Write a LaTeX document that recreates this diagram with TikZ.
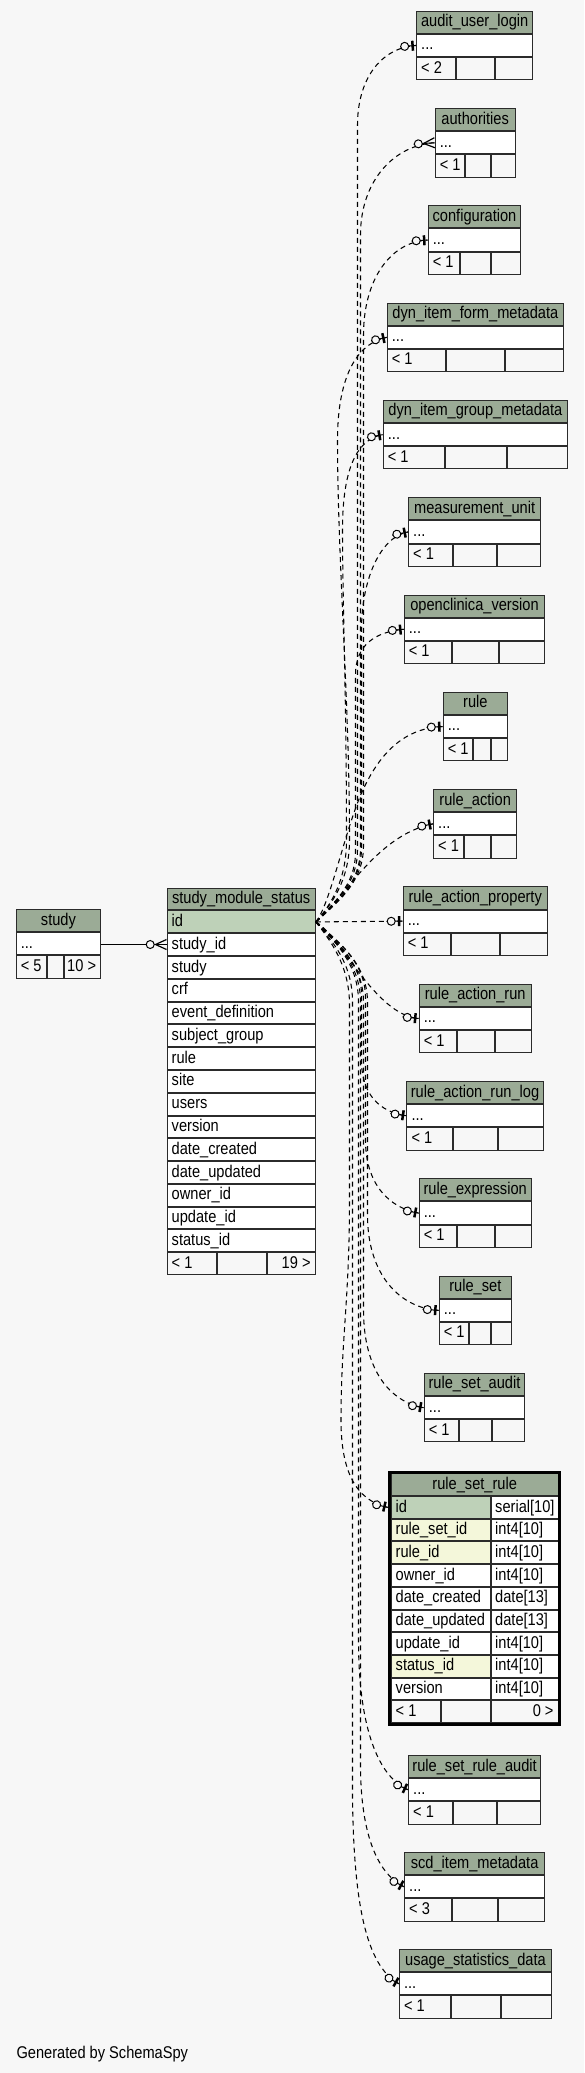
\documentclass[tikz,border=0pt]{standalone}
\usepackage{fontspec}
\setmainfont{Liberation Sans}[FakeStretch=0.86]
\usetikzlibrary{decorations.markings}
\definecolor{bg}{HTML}{F7F7F7}
\definecolor{hdr}{HTML}{9BAB96}
\definecolor{pk}{HTML}{BED1B8}
\definecolor{fk}{HTML}{F4F7DA}
\definecolor{bd}{HTML}{2B2B2B}
\definecolor{ln}{HTML}{000000}
\def\rh{23.17}
\newcommand{\cellbox}[5]{%
  \filldraw[fill=#5, draw=bd, line width=1pt] ({#1+0.5},{#2+0.5}) rectangle ({#3-0.5},{#4-0.5});}
\newcommand{\smalltbl}[8]{%
  \pgfmathsetmacro\ya{#4+\rh}%
  \pgfmathsetmacro\yb{#4+2*\rh}%
  \pgfmathsetmacro\yc{#4+3*\rh}%
  \cellbox{#2}{#4}{#3}{\ya}{hdr}
  \cellbox{#2}{\ya}{#3}{\yb}{white}
  \cellbox{#2}{\yb}{#7}{\yc}{bg}
  \cellbox{#7}{\yb}{#8}{\yc}{bg}
  \cellbox{#8}{\yb}{#3}{\yc}{bg}
  \node[txt, anchor=base] (#1-h) at ({(#2+#3)/2},{#4+16}) {#5};
  \node[txt, anchor=base west] (#1-r) at ({#2+5},{\ya+16}) {...};
  \node[txt, anchor=base west] (#1-f) at ({#2+5},{\yb+16}) {#6};
  \coordinate (#1-in) at (#2,{\ya+\rh/2});
}
\tikzset{
  txt/.style={inner sep=0pt, font=\fontsize{17}{20}\selectfont},
  conn/.style={draw=ln, line width=1.05pt, dash pattern=on 5pt off 4pt},
  zeroone/.style={postaction={decorate, decoration={markings, mark=at position -0.6pt with {
     \draw[ln, solid, line width=1pt] (-15.4pt,0pt) -- (0.6pt,0pt);
     \filldraw[draw=ln, fill=bg, solid, line width=1pt] (-10.8pt,0pt) circle[radius=4pt];
     \draw[ln, solid, line width=2.5pt] (-2.8pt,-5pt) -- (-2.8pt,5pt);}}}},
  zeromany/.style={postaction={decorate, decoration={markings, mark=at position -0.6pt with {
     \draw[ln, solid, line width=1pt] (-20.4pt,0pt) -- (0.6pt,0pt);
     \filldraw[draw=ln, fill=bg, solid, line width=1pt] (-15.7pt,0pt) circle[radius=4pt];
     \draw[ln, solid, line width=1.2pt] (-10.4pt,0pt) -- (0.6pt,5pt) (-10.4pt,0pt) -- (0.6pt,-5pt);}}}}
}
\begin{document}
\begin{tikzpicture}[x=1pt,y=-1pt]
\fill[bg] (0,0) rectangle (584,2073);
\useasboundingbox (0,0) rectangle (584,2073);

% small tables
\smalltbl{audit}{416}{533.3}{10.7}{audit\_user\_login}{< 2}{455.9}{494.6}
\smalltbl{auth}{434.6}{515.8}{108}{authorities}{< 1}{464.8}{490.9}
\smalltbl{conf}{427.6}{521.4}{205.3}{configuration}{< 1}{460.3}{490.9}
\smalltbl{dform}{386.7}{564}{302.6}{dyn\_item\_form\_metadata}{< 1}{446.3}{505.3}
\smalltbl{dgroup}{382.7}{568}{399.9}{dyn\_item\_group\_metadata}{< 1}{445}{506.7}
\smalltbl{meas}{408}{541.3}{497.2}{measurement\_unit}{< 1}{453}{497}
\smalltbl{ocv}{403.7}{545.3}{594.5}{openclinica\_version}{< 1}{452}{498.7}
\smalltbl{rule}{442.7}{508}{691.8}{rule}{< 1}{473}{490.7}
\smalltbl{ract}{433}{517.3}{789.1}{rule\_action}{< 1}{463.7}{491}
\smalltbl{rap}{402.6}{547.9}{886.4}{rule\_action\_property}{< 1}{451.4}{499.8}
\smalltbl{rar}{418.6}{531.8}{983.7}{rule\_action\_run}{< 1}{457}{494.6}
\smalltbl{rarl}{406.3}{543.8}{1081}{rule\_action\_run\_log}{< 1}{452.9}{498.3}
\smalltbl{rexp}{418.6}{531.8}{1178.3}{rule\_expression}{< 1}{457}{494.6}
\smalltbl{rset}{438.7}{512}{1275.6}{rule\_set}{< 1}{469}{490.7}
\smalltbl{rsa}{423.7}{525.3}{1372.9}{rule\_set\_audit}{< 1}{458.7}{492}
\smalltbl{rsra}{408}{541.3}{1755}{rule\_set\_rule\_audit}{< 1}{452.9}{497.2}
\smalltbl{scd}{404}{545.3}{1852}{scd\_item\_metadata}{< 3}{451.8}{498.3}
\smalltbl{usd}{398.9}{552}{1949}{usage\_statistics\_data}{< 1}{450.7}{501.3}

% study
\cellbox{15.6}{909}{101.3}{932.2}{hdr}
\cellbox{15.6}{932.2}{101.3}{955.3}{white}
\cellbox{15.6}{955.3}{46.6}{978.5}{bg}
\cellbox{46.6}{955.3}{64}{978.5}{bg}
\cellbox{64}{955.3}{101.3}{978.5}{bg}
\node[txt, anchor=base] (study-h) at (58.45,925) {study};
\node[txt, anchor=base west] (study-r) at (20.6,948.2) {...};
\node[txt, anchor=base west] (study-f1) at (20.6,971.3) {< 5};
\node[txt, anchor=base east] (study-f3) at (96.3,971.3) {10 >};
\coordinate (study-out) at (101.3,944.5);

% study_module_status
\cellbox{166.5}{887.7}{315.8}{910.48}{hdr}
\node[txt, anchor=base] (sms-h) at (241.15,903.7) {study\_module\_status};
\foreach \t [count=\i] in {id,study\_id,study,crf,event\_definition,subject\_group,rule,site,users,version,date\_created,date\_updated,owner\_id,update\_id,status\_id}{
  \pgfmathsetmacro\yt{887.7+\i*22.78}
  \ifnum\i=1 \def\ff{pk}\else\def\ff{white}\fi
  \cellbox{166.5}{\yt}{315.8}{\yt+22.78}{\ff}
  \node[txt, anchor=base west] (sms-\i) at (171.5,{\yt+16}) {\t};
}
\cellbox{166.5}{1252.2}{216.8}{1275}{bg}
\cellbox{216.8}{1252.2}{266.7}{1275}{bg}
\cellbox{266.7}{1252.2}{315.8}{1275}{bg}
\node[txt, anchor=base west] (sms-f1) at (171.5,1268.2) {< 1};
\node[txt, anchor=base east] (sms-f3) at (310.8,1268.2) {19 >};
\coordinate (sms-out) at (315.8,921.9);
\coordinate (sms-sid-in) at (166.5,944.5);

% rule_set_rule
\cellbox{390.7}{1473.3}{558.7}{1496}{hdr}
\node[txt, anchor=base] (rsr-h) at (474.7,1489.3) {rule\_set\_rule};
\foreach \n/\ty/\c [count=\i] in {id/{serial[10]}/pk, rule\_set\_id/{int4[10]}/fk, rule\_id/{int4[10]}/fk, owner\_id/{int4[10]}/white, date\_created/{date[13]}/white, date\_updated/{date[13]}/white, update\_id/{int4[10]}/white, status\_id/{int4[10]}/fk, version/{int4[10]}/white}{
  \pgfmathsetmacro\yt{1473.3+\i*22.7}
  \cellbox{390.7}{\yt}{490.7}{\yt+22.7}{\c}
  \cellbox{490.7}{\yt}{558.7}{\yt+22.7}{white}
  \node[txt, anchor=base west] (rsr-n\i) at (395.5,{\yt+16}) {\n};
  \node[txt, anchor=base west] (rsr-t\i) at (495,{\yt+16}) {\ty};
}
\cellbox{390.7}{1700.3}{441}{1723}{bg}
\cellbox{441}{1700.3}{490.7}{1723}{bg}
\cellbox{490.7}{1700.3}{558.7}{1723}{bg}
\node[txt, anchor=base west] (rsr-f1) at (395.5,1716.3) {< 1};
\node[txt, anchor=base east] (rsr-f3) at (553.7,1716.3) {0 >};
\draw[black, line width=3pt] (389.2,1472.2) rectangle (559.5,1724.5);
\coordinate (rsr-in) at (387.7,1507.35);

\node[txt, anchor=base west] (gen) at (16.4,2058.5) {Generated by SchemaSpy};

% connectors
\draw[draw=ln, line width=1pt, zeromany] (study-out) -- (sms-sid-in);

% upward
\draw[conn,zeroone] (sms-out) .. controls (333,904) and (357.5,885) .. (357.5,850) -- (357.5,125) .. controls (357.5,80) and (380,48) .. (audit-in);
\draw[conn,zeromany] (sms-out) .. controls (334,904) and (360.5,885) .. (360.5,848) -- (360.5,235) .. controls (360.5,180) and (395,145) .. (auth-in);
\draw[conn,zeroone] (sms-out) .. controls (335,904) and (363.5,884) .. (363.5,846) -- (363.5,335) .. controls (363.5,280) and (390,242) .. (conf-in);
\draw[conn,zeroone] (sms-out) .. controls (332,904) and (349.5,880) .. (349.5,840) .. controls (349.5,700) and (337.5,560) .. (337.5,440) .. controls (337.5,390) and (350,345) .. (dform-in);
\draw[conn,zeroone] (sms-out) .. controls (331,905) and (346.5,880) .. (346.5,840) .. controls (346.5,700) and (342.5,600) .. (342.5,530) .. controls (342.5,480) and (352,440) .. (dgroup-in);
\draw[conn,zeroone] (sms-out) .. controls (334,904) and (361.5,885) .. (361.5,848) -- (361.5,630) .. controls (361.5,580) and (380,537) .. (meas-in);
\draw[conn,zeroone] (sms-out) .. controls (332,904) and (355.5,886) .. (355.5,852) -- (355.5,675) .. controls (355.5,645) and (375,632) .. (ocv-in);
\draw[conn,zeroone] (sms-out) .. controls (330,905) and (345,830) .. (362,792) .. controls (380,752) and (405,728) .. (rule-in);
\draw[conn,zeroone] (sms-out) .. controls (340,905) and (375,835) .. (ract-in);
\draw[conn,zeroone] (sms-out) -- (rap-in);
% downward
\draw[conn,zeroone] (sms-out) .. controls (340,935) and (375,1015) .. (rar-in);
\draw[conn,zeroone] (sms-out) .. controls (333,940) and (361.5,960) .. (361.5,995) -- (361.5,1060) .. controls (361.5,1095) and (380,1112) .. (rarl-in);
\draw[conn,zeroone] (sms-out) .. controls (335,940) and (365.5,960) .. (365.5,998) -- (365.5,1140) .. controls (365.5,1185) and (390,1208) .. (rexp-in);
\draw[conn,zeroone] (sms-out) .. controls (336,940) and (367.5,962) .. (367.5,1002) -- (367.5,1215) .. controls (367.5,1275) and (400,1308) .. (rset-in);
\draw[conn,zeroone] (sms-out) .. controls (334,940) and (363.5,962) .. (363.5,1002) -- (363.5,1310) .. controls (363.5,1370) and (390,1402) .. (rsa-in);
\draw[conn,zeroone] (sms-out) .. controls (330,940) and (349.5,965) .. (349.5,1005) -- (349.5,1200) .. controls (349.5,1300) and (341,1340) .. (341,1420) .. controls (341,1470) and (355,1500) .. (rsr-in);
\draw[conn,zeroone] (sms-out) .. controls (333,940) and (358.5,962) .. (358.5,1002) -- (358.5,1640) .. controls (358.5,1720) and (375,1775) .. (rsra-in);
\draw[conn,zeroone] (sms-out) .. controls (333,940) and (360.5,962) .. (360.5,1002) -- (360.5,1770) .. controls (361.5,1830) and (375,1872) .. (scd-in);
\draw[conn,zeroone] (sms-out) .. controls (331,940) and (352.5,962) .. (352.5,1002) -- (352.5,1800) .. controls (354,1900) and (365,1965) .. (usd-in);
\end{tikzpicture}
\end{document}
